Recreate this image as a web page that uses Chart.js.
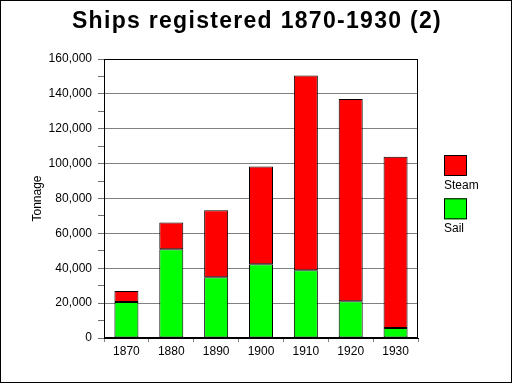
<!DOCTYPE html>
<html>
<head>
<meta charset="utf-8">
<script src="https://cdn.jsdelivr.net/npm/chart.js@4/dist/chart.umd.min.js"></script>
<style>
  html, body { margin: 0; padding: 0; background: #fff; }
  #wrap { position: absolute; left: 0; top: 0; width: 510px; height: 381px; border: 1px solid #000; background: #fff; }
  canvas { display: block; }
</style>
</head>
<body>
<div id="wrap"><canvas id="c" width="510" height="381"></canvas></div>
<script>
const titleText = 'Ships registered 1870-1930 (2)';
const years = ['1870', '1880', '1890', '1900', '1910', '1920', '1930'];
const sail = [20600, 50900, 34900, 42300, 38900, 21100, 5700];
const steam = [6300, 15400, 38300, 56000, 111600, 116000, 98300];
const yMax = 160000;
const yMinorStep = 10000;
const yMajorStep = 20000;

const FONT = "'Liberation Sans', Arial, sans-serif";

const titlePlugin = {
  id: 'titlePlugin',
  afterDraw(chart) {
    const ctx = chart.ctx;
    ctx.save();
    ctx.font = 'bold 23px ' + FONT;
    try { ctx.letterSpacing = '1.3px'; } catch (e) {}
    ctx.fillStyle = '#000';
    ctx.textAlign = 'center';
    ctx.textBaseline = 'alphabetic';
    ctx.fillText(titleText, chart.width / 2 + 1, 27);
    ctx.restore();
  }
};

const frame = {
  id: 'frame',
  afterDraw(chart) {
    const a = chart.chartArea, ctx = chart.ctx;
    ctx.save();
    ctx.strokeStyle = '#000';
    ctx.lineWidth = 1;
    ctx.strokeRect(Math.round(a.left) + 0.5, Math.round(a.top) + 0.5, Math.round(a.right - a.left) - 1, Math.round(a.bottom - a.top) - 1);
    ctx.restore();
  }
};

const sideLegend = {
  id: 'sideLegend',
  afterDraw(chart) {
    const ctx = chart.ctx;
    const ds = chart.data.datasets.slice().reverse();
    ctx.save();
    ctx.font = '12px ' + FONT;
    ctx.textBaseline = 'alphabetic';
    ctx.textAlign = 'left';
    ds.forEach((d, i) => {
      const x = 443, y = 154 + i * 43.3;
      ctx.fillStyle = d.backgroundColor;
      ctx.fillRect(x, y, 23, 21);
      ctx.strokeStyle = '#000';
      ctx.lineWidth = 1;
      ctx.strokeRect(x + 0.5, y + 0.5, 22, 20);
      ctx.fillStyle = '#000';
      ctx.fillText(d.label, x, y + 34);
    });
    ctx.restore();
  }
};

new Chart(document.getElementById('c'), {
  type: 'bar',
  data: {
    labels: years,
    datasets: [
      { label: 'Sail', data: sail, backgroundColor: '#00ff00', borderColor: '#000', borderWidth: 1, borderSkipped: false },
      { label: 'Steam', data: steam, backgroundColor: '#ff0000', borderColor: '#000', borderWidth: 1, borderSkipped: false }
    ]
  },
  options: {
    responsive: false,
    animation: false,
    devicePixelRatio: 1,
    layout: { padding: { left: 0, right: 93, top: 58, bottom: 24 } },
    datasets: { bar: { barPercentage: 0.535, categoryPercentage: 1 } },
    plugins: {
      legend: { display: false },
      tooltip: { enabled: false },
      title: { display: false }
    },
    scales: {
      x: {
        stacked: true,
        offset: true,
        afterFit(s) { s.height = 20; },
        grid: { offset: true, drawOnChartArea: false, tickLength: 4, tickColor: '#808080' },
        border: { color: '#000', width: 1 },
        ticks: { color: '#000', padding: 2, font: { family: FONT, size: 12 }, maxRotation: 0 }
      },
      y: {
        stacked: true,
        min: 0,
        max: yMax,
        afterFit(s) { s.width = 103; },
        grid: {
          color: (c) => (c.tick && c.tick.value % yMajorStep === 0) ? '#808080' : 'rgba(0,0,0,0)',
          tickColor: '#707070',
          tickLength: 6
        },
        border: { color: '#000', width: 1 },
        ticks: {
          stepSize: yMinorStep,
          autoSkip: false,
          padding: 6,
          color: '#000',
          font: { family: FONT, size: 12 },
          callback: (v) => (v % yMajorStep === 0) ? v.toLocaleString('en-US') : ''
        },
        title: {
          display: true,
          text: 'Tonnage',
          color: '#000',
          font: { family: FONT, size: 12, lineHeight: 1.2 },
          padding: { top: 29, bottom: 0 }
        }
      }
    }
  },
  plugins: [titlePlugin, frame, sideLegend]
});
</script>
</body>
</html>
